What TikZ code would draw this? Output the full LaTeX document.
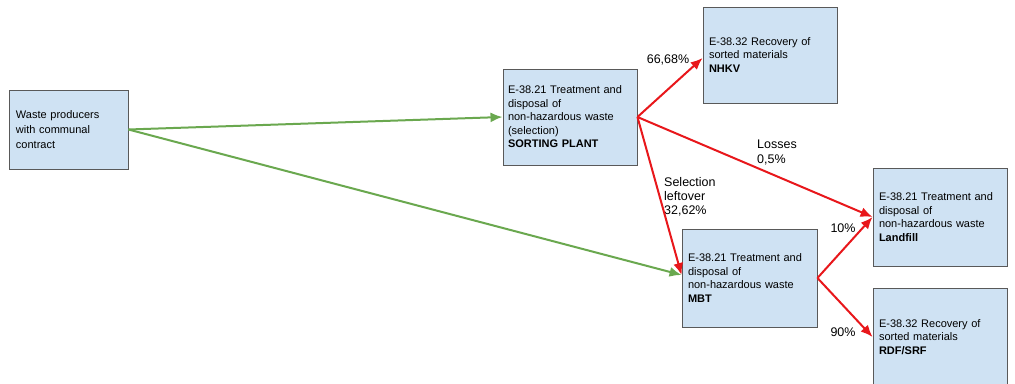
\documentclass[tikz,border=0pt]{standalone}
\usepackage{fontspec}
\setmainfont{Liberation Sans}
\usetikzlibrary{arrows.meta}
\definecolor{boxfill}{HTML}{CFE2F3}
\definecolor{boxline}{HTML}{595959}
\definecolor{flowred}{HTML}{E8171B}
\definecolor{flowgreen}{HTML}{6AA84F}
\tikzset{
  box/.style={draw=boxline, line width=0.9pt, fill=boxfill, inner sep=0pt,
    align=left, font=\fontsize{11}{13.5}\selectfont},
  pct/.style={inner sep=0pt, align=left, font=\fontsize{12.5}{14.5}\selectfont},
  flow/.style={line width=2pt, -{Latex[length=12pt,width=10pt]}},
  greenflow/.style={flow, draw=flowgreen, fill=flowgreen},
  redflow/.style={flow, draw=flowred, fill=flowred}
}
\begin{document}
\begin{tikzpicture}[x=1pt, y=-1pt]
\useasboundingbox (0,0) rectangle (1015,383);
\fill[white] (0,0) rectangle (1015,383);

% boxes
\node[box, minimum width=119pt, minimum height=79pt, text width=105pt,
  font=\fontsize{11}{15}\selectfont] (prod) at (68.5,129.5)
  {Waste producers\\with communal\\contract};
\node[box, minimum width=134pt, minimum height=96pt, text width=124pt] (sort) at (570,117)
  {E-38.21 Treatment and\\disposal of\\non-hazardous waste\\(selection)\\\textbf{SORTING PLANT}};
\node[box, minimum width=134pt, minimum height=96pt, text width=122pt] (nhkv) at (770,55)
  {E-38.32 Recovery of\\sorted materials\\\textbf{NHKV}};
\node[box, minimum width=135pt, minimum height=98pt, text width=123pt] (mbt) at (749.5,278)
  {E-38.21 Treatment and\\disposal of\\non-hazardous waste\\\textbf{MBT}};
\node[box, minimum width=134pt, minimum height=98pt, text width=122pt] (land) at (940,217)
  {E-38.21 Treatment and\\disposal of\\non-hazardous waste\\\textbf{Landfill}};
\node[box, minimum width=134pt, minimum height=98pt, text width=122pt] (rdf) at (940,337)
  {E-38.32 Recovery of\\sorted materials\\\textbf{RDF/SRF}};

% flow shares
\node[pct] (pnhkv) at (668,60) {66,68\%};
\node[pct, anchor=north west, font=\fontsize{12.5}{15}\selectfont] (ploss) at (757,140) {Losses\\0,5\%};
\node[pct, anchor=north west, font=\fontsize{12.5}{14}\selectfont] (pleft) at (664,177) {Selection\\leftover\\32,62\%};
\node[pct] (pland) at (843,228) {10\%};
\node[pct] (prdf) at (843,332) {90\%};

% flows
\draw[greenflow] (prod.east) -- (sort.west);
\draw[greenflow] (prod.east) -- ([yshift=3pt]mbt.west);
\draw[redflow] (sort.east) -- ([yshift=-3pt]nhkv.west);
\draw[redflow] (sort.east) -- (land.west);
\draw[redflow] (sort.east) -- ([yshift=3pt]mbt.west);
\draw[redflow] (mbt.east) -- (land.west);
\draw[redflow] (mbt.east) -- (rdf.west);
\end{tikzpicture}
\end{document}
